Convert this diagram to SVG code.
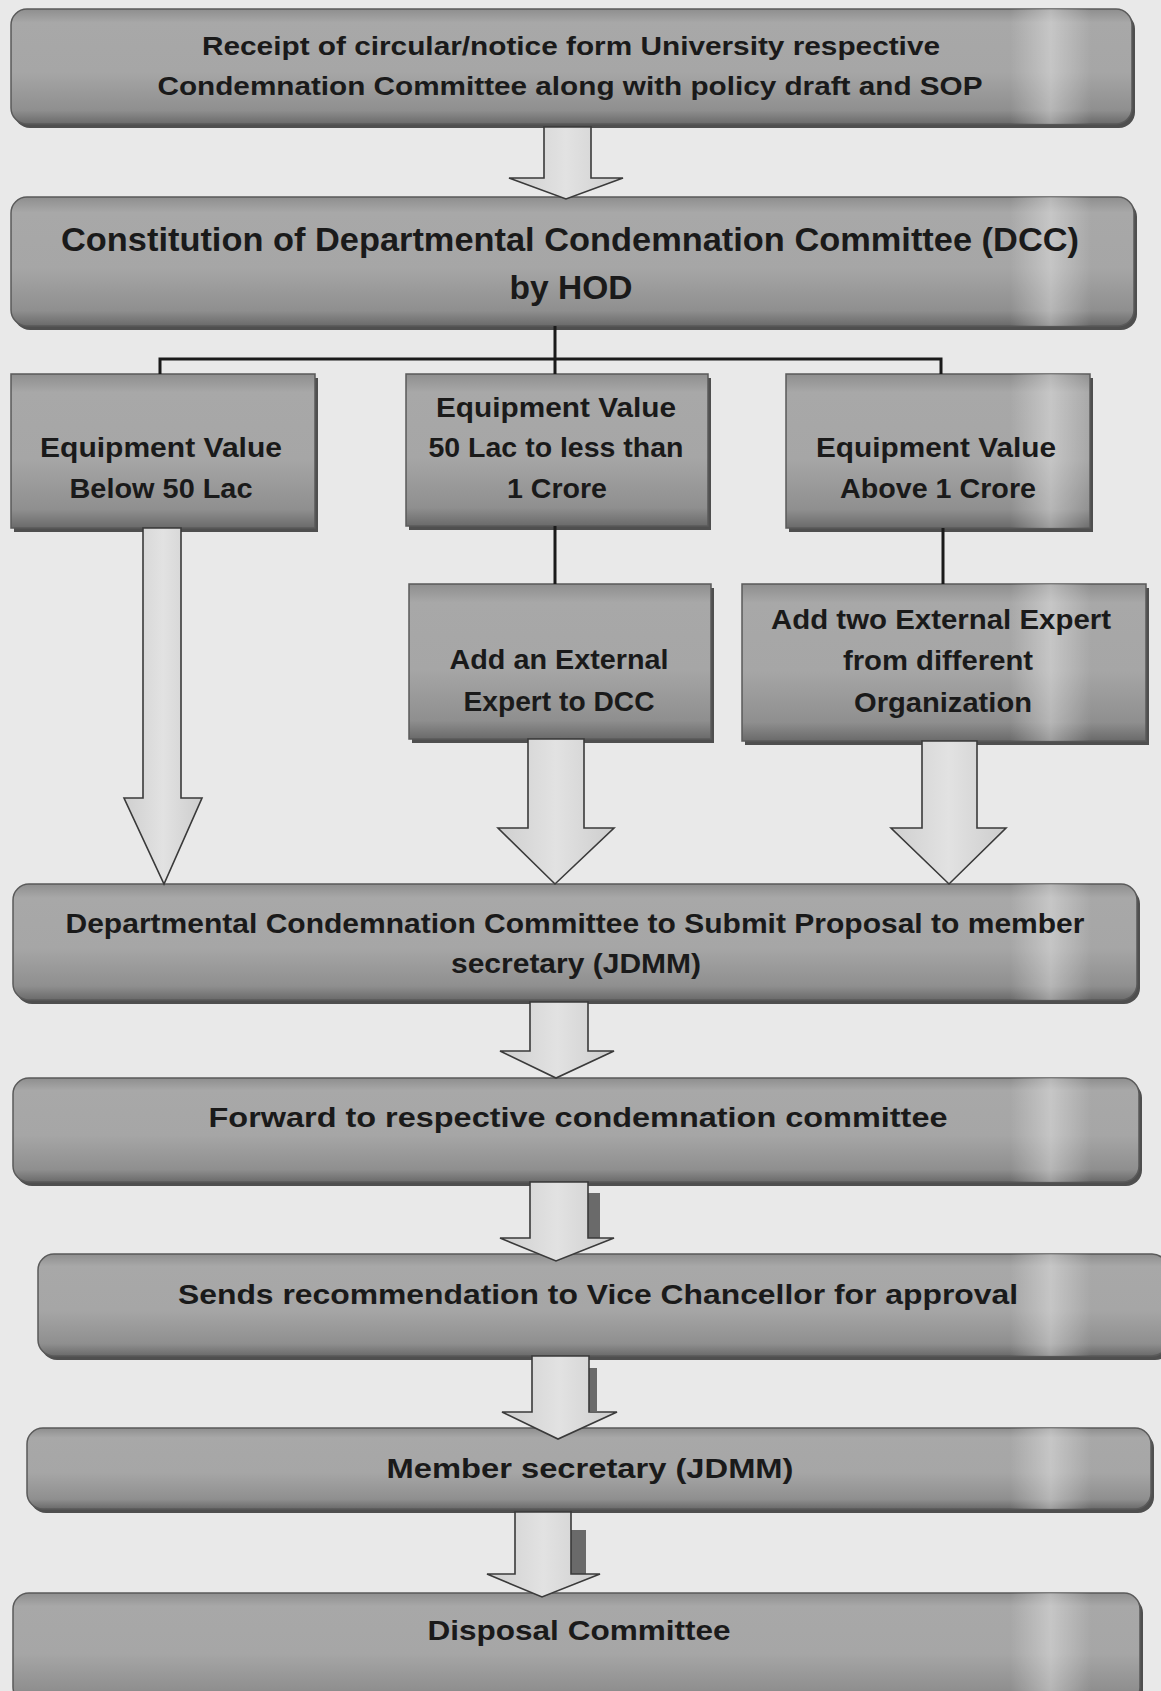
<svg xmlns="http://www.w3.org/2000/svg" width="1161" height="1691" viewBox="0 0 1161 1691">
<defs>
<linearGradient id="boxg" x1="0" y1="0" x2="0" y2="1">
<stop offset="0" stop-color="#8e8e8e"/>
<stop offset="0.12" stop-color="#a8a8a8"/>
<stop offset="0.55" stop-color="#a6a6a6"/>
<stop offset="0.88" stop-color="#8f8f8f"/>
<stop offset="1" stop-color="#6a6a6a"/>
</linearGradient>
<linearGradient id="streak" gradientUnits="userSpaceOnUse" x1="0" y1="0" x2="1161" y2="0">
<stop offset="0" stop-color="#ffffff" stop-opacity="0"/>
<stop offset="0.87" stop-color="#ffffff" stop-opacity="0"/>
<stop offset="0.905" stop-color="#ffffff" stop-opacity="0.35"/>
<stop offset="0.94" stop-color="#ffffff" stop-opacity="0"/>
<stop offset="1" stop-color="#ffffff" stop-opacity="0"/>
</linearGradient>
<linearGradient id="arrg" x1="0" y1="0" x2="1" y2="0">
<stop offset="0" stop-color="#cfcfcf"/>
<stop offset="0.5" stop-color="#e2e2e2"/>
<stop offset="1" stop-color="#cdcdcd"/>
</linearGradient>
</defs>
<style>
.bg{fill:#e9e9e9}
.shadow{fill:#4f4f4f}
.box{fill:url(#boxg);stroke:#5a5a5a;stroke-width:1.5}
.streak{fill:url(#streak)}
.t{font-family:"Liberation Sans",Arial,sans-serif;font-weight:bold;fill:#1a1a1a;text-anchor:middle}
.t25{font-size:26px}
.t27{font-size:28px}
.t33{font-size:34px}
.line{stroke:#1a1a1a;stroke-width:3;fill:none}
.arrow{fill:url(#arrg);stroke:#3a3a3a;stroke-width:1.6;stroke-linejoin:miter}
.dark{fill:#6a6a6a}
</style>
<rect class="bg" x="0" y="0" width="1161" height="1691"/>

<g id="node-receipt">
<rect class="shadow" x="14" y="13" width="1121" height="115" rx="16"/>
<rect class="box" x="11" y="9" width="1121" height="115" rx="16"/>
<rect class="streak" x="11" y="9" width="1121" height="115" rx="16"/>
<text class="t t25" x="571" y="55" textLength="738" lengthAdjust="spacingAndGlyphs">Receipt of circular/notice form University respective</text>
<text class="t t25" x="570" y="95" textLength="825" lengthAdjust="spacingAndGlyphs">Condemnation Committee along with policy draft and SOP</text>
</g>

<g id="node-constitution">
<rect class="shadow" x="14" y="201" width="1123" height="129" rx="16"/>
<rect class="box" x="11" y="197" width="1123" height="129" rx="16"/>
<rect class="streak" x="11" y="197" width="1123" height="129" rx="16"/>
<text class="t t33" x="570" y="251" textLength="1018" lengthAdjust="spacingAndGlyphs">Constitution of Departmental Condemnation Committee (DCC)</text>
<text class="t t33" x="571" y="299" textLength="123" lengthAdjust="spacingAndGlyphs">by HOD</text>
</g>

<g id="node-below50">
<rect class="shadow" x="14" y="378" width="304" height="154"/>
<rect class="box" x="11" y="374" width="304" height="154"/>
<text class="t t27" x="161" y="457" textLength="242" lengthAdjust="spacingAndGlyphs">Equipment Value</text>
<text class="t t27" x="161" y="498" textLength="183" lengthAdjust="spacingAndGlyphs">Below 50 Lac</text>
</g>

<g id="node-50to1cr">
<rect class="shadow" x="409" y="378" width="302" height="152"/>
<rect class="box" x="406" y="374" width="302" height="152"/>
<text class="t t27" x="556" y="417" textLength="240" lengthAdjust="spacingAndGlyphs">Equipment Value</text>
<text class="t t27" x="556" y="457" textLength="255" lengthAdjust="spacingAndGlyphs">50 Lac to less than</text>
<text class="t t27" x="557" y="498" textLength="100" lengthAdjust="spacingAndGlyphs">1 Crore</text>
</g>

<g id="node-above1cr">
<rect class="shadow" x="789" y="378" width="304" height="154"/>
<rect class="box" x="786" y="374" width="304" height="154"/>
<rect class="streak" x="786" y="374" width="304" height="154"/>
<text class="t t27" x="936" y="457" textLength="240" lengthAdjust="spacingAndGlyphs">Equipment Value</text>
<text class="t t27" x="938" y="498" textLength="196" lengthAdjust="spacingAndGlyphs">Above 1 Crore</text>
</g>

<g id="node-add-one">
<rect class="shadow" x="412" y="588" width="302" height="155"/>
<rect class="box" x="409" y="584" width="302" height="155"/>
<text class="t t27" x="559" y="669" textLength="219" lengthAdjust="spacingAndGlyphs">Add an External</text>
<text class="t t27" x="559" y="711" textLength="191" lengthAdjust="spacingAndGlyphs">Expert to DCC</text>
</g>

<g id="node-add-two">
<rect class="shadow" x="745" y="588" width="404" height="157"/>
<rect class="box" x="742" y="584" width="404" height="157"/>
<rect class="streak" x="742" y="584" width="404" height="157"/>
<text class="t t27" x="941" y="629" textLength="340" lengthAdjust="spacingAndGlyphs">Add two External Expert</text>
<text class="t t27" x="938" y="670" textLength="190" lengthAdjust="spacingAndGlyphs">from different</text>
<text class="t t27" x="943" y="712" textLength="178" lengthAdjust="spacingAndGlyphs">Organization</text>
</g>

<g id="node-submit">
<rect class="shadow" x="16" y="888" width="1124" height="116" rx="16"/>
<rect class="box" x="13" y="884" width="1124" height="116" rx="16"/>
<rect class="streak" x="13" y="884" width="1124" height="116" rx="16"/>
<text class="t t27" x="575" y="933" textLength="1019" lengthAdjust="spacingAndGlyphs">Departmental Condemnation Committee to Submit Proposal to member</text>
<text class="t t27" x="576" y="973" textLength="250" lengthAdjust="spacingAndGlyphs">secretary (JDMM)</text>
</g>

<g id="node-forward">
<rect class="shadow" x="16" y="1082" width="1126" height="104" rx="16"/>
<rect class="box" x="13" y="1078" width="1126" height="104" rx="16"/>
<rect class="streak" x="13" y="1078" width="1126" height="104" rx="16"/>
<text class="t t27" x="578" y="1127" textLength="739" lengthAdjust="spacingAndGlyphs">Forward to respective condemnation committee</text>
</g>

<g id="node-sends">
<rect class="shadow" x="41" y="1258" width="1130" height="102" rx="16"/>
<rect class="box" x="38" y="1254" width="1130" height="102" rx="16"/>
<rect class="streak" x="38" y="1254" width="1130" height="102" rx="16"/>
<text class="t t27" x="598" y="1304" textLength="840" lengthAdjust="spacingAndGlyphs">Sends recommendation to Vice Chancellor for approval</text>
</g>

<g id="node-member">
<rect class="shadow" x="30" y="1432" width="1124" height="81" rx="16"/>
<rect class="box" x="27" y="1428" width="1124" height="81" rx="16"/>
<rect class="streak" x="27" y="1428" width="1124" height="81" rx="16"/>
<text class="t t27" x="590" y="1478" textLength="407" lengthAdjust="spacingAndGlyphs">Member secretary (JDMM)</text>
</g>

<g id="node-disposal">
<rect class="shadow" x="16" y="1597" width="1127" height="110" rx="16"/>
<rect class="box" x="13" y="1593" width="1127" height="110" rx="16"/>
<rect class="streak" x="13" y="1593" width="1127" height="110" rx="16"/>
<text class="t t27" x="579" y="1640" textLength="303" lengthAdjust="spacingAndGlyphs">Disposal Committee</text>
</g>

<g id="connectors">
<path class="line" d="M555 326 V359 M160 359 H941 M160 357.5 V374 M555 359 V374 M941 357.5 V374"/>
<path class="line" d="M555 526 V584 M943 528 V584"/>
<polygon class="arrow" points="544,127 591,127 591,178 623,178 566,199 509,178 544,178"/>
<polygon class="arrow" points="143,528 181,528 181,798 202,798 164,884 124,798 143,798"/>
<polygon class="arrow" points="528,739 584,739 584,828 614,828 555,884 498,828 528,828"/>
<polygon class="arrow" points="922,741 977,741 977,828 1006,828 949,884 891,828 922,828"/>
<polygon class="arrow" points="530,1002 588,1002 588,1051 614,1051 556,1078 500,1051 530,1051"/>
<rect class="dark" x="588" y="1193" width="12" height="45"/>
<polygon class="arrow" points="530,1182 588,1182 588,1238 614,1238 556,1261 500,1238 530,1238"/>
<rect class="dark" x="589" y="1368" width="8" height="43"/>
<polygon class="arrow" points="532,1356 589,1356 589,1412 617,1412 558,1439 502,1412 532,1412"/>
<rect class="dark" x="571" y="1530" width="15" height="44"/>
<polygon class="arrow" points="515,1512 571,1512 571,1574 600,1574 542,1597 487,1574 515,1574"/>
</g>
</svg>
